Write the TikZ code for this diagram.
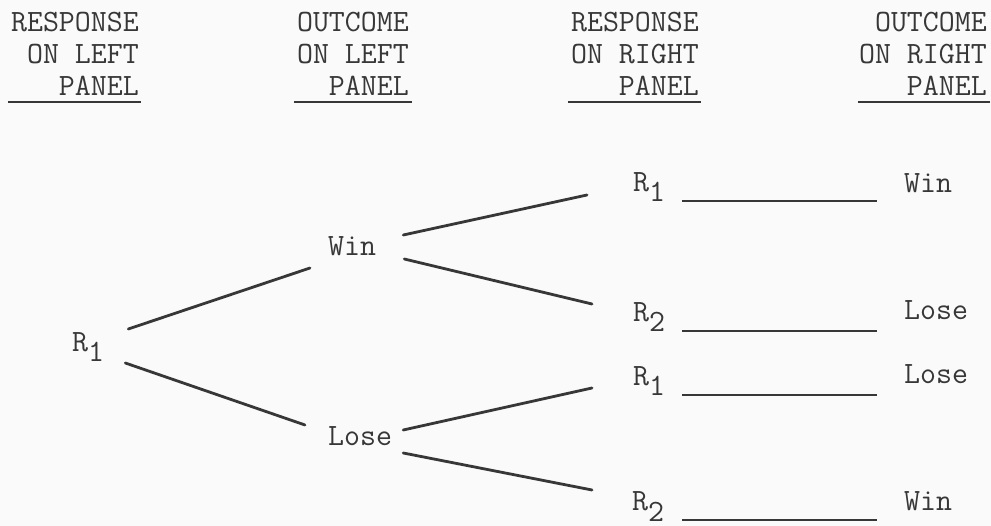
\documentclass[tikz,border=0pt]{standalone}
\usepackage{fontspec}
\definecolor{ink}{RGB}{55,55,55}
\definecolor{paper}{RGB}{250,250,250}
\newcommand{\lowsub}[1]{\raisebox{-10pt}{#1}}
\begin{document}
\begin{tikzpicture}[x=1pt,y=-1pt,
  typ/.style={font=\ttfamily\fontsize{31}{32}\selectfont, text=ink, inner sep=0pt},
  txt/.style={typ, anchor=base west},
  hdr/.style={typ, anchor=base east},
  branch/.style={draw=ink, line width=2.8pt, line cap=round},
  rulel/.style={draw=ink, line width=1.5pt}]
\fill[paper] (0,0) rectangle (991,526);
\useasboundingbox (0,0) rectangle (991,526);

% header columns
\node[hdr] (h1a) at (139,32) {RESPONSE};
\node[hdr] (h1b) at (139,64) {ON LEFT};
\node[hdr] (h1c) at (139,96) {PANEL};
\node[hdr] (h2a) at (409,32) {OUTCOME};
\node[hdr] (h2b) at (409,64) {ON LEFT};
\node[hdr] (h2c) at (409,96) {PANEL};
\node[hdr] (h3a) at (699,32) {RESPONSE};
\node[hdr] (h3b) at (699,64) {ON RIGHT};
\node[hdr] (h3c) at (699,96) {PANEL};
\node[hdr] (h4a) at (987,32) {OUTCOME};
\node[hdr] (h4b) at (987,64) {ON RIGHT};
\node[hdr] (h4c) at (987,96) {PANEL};
\draw[rulel] ([shift={(-3,70)}]h1a.base west) -- ([shift={(2,70)}]h1a.base east);
\draw[rulel] ([shift={(-3,70)}]h2a.base west) -- ([shift={(3,70)}]h2a.base east);
\draw[rulel] ([shift={(-3,38)}]h3b.base west) -- ([shift={(2,38)}]h3b.base east);
\draw[rulel] ([shift={(-1,38)}]h4b.base west) -- ([shift={(3,38)}]h4b.base east);

% tree nodes
\node[txt] (r1l) at (72,352) {R\lowsub{1}};
\node[txt] (win) at (328,256) {Win};
\node[txt] (lose) at (328,446) {Lose};
\node[txt] (ra) at (633,192) {R\lowsub{1}};
\node[txt] (rb) at (633,322) {R\lowsub{2}};
\node[txt] (rc) at (633,386) {R\lowsub{1}};
\node[txt] (rd) at (632,511) {R\lowsub{2}};
\node[txt] (oa) at (904,193) {Win};
\node[txt] (ob) at (904,320) {Lose};
\node[txt] (oc) at (904,384) {Lose};
\node[txt] (od) at (904,510) {Win};

% branches
\draw[branch] ([shift={(24,-23)}]r1l.base east) -- ([shift={(-18,12)}]win.base west);
\draw[branch] ([shift={(21,11)}]r1l.base east) -- ([shift={(-23,-21)}]lose.base west);
\draw[branch] ([shift={(27,-21)}]win.base east) -- ([shift={(-46,3)}]ra.base west);
\draw[branch] ([shift={(28,3)}]win.base east) -- ([shift={(-41,-18)}]rb.base west);
\draw[branch] ([shift={(11,-16)}]lose.base east) -- ([shift={(-41,2)}]rc.base west);
\draw[branch] ([shift={(11,7)}]lose.base east) -- ([shift={(-40,-21)}]rd.base west);

% answer lines
\draw[rulel] ([shift={(17,9)}]ra.base east) -- ([shift={(-27,8)}]oa.base west);
\draw[rulel] ([shift={(17,9)}]rb.base east) -- ([shift={(-27,11)}]ob.base west);
\draw[rulel] ([shift={(17,9)}]rc.base east) -- ([shift={(-27,11)}]oc.base west);
\draw[rulel] ([shift={(18,9)}]rd.base east) -- ([shift={(-27,10)}]od.base west);
\end{tikzpicture}
\end{document}
